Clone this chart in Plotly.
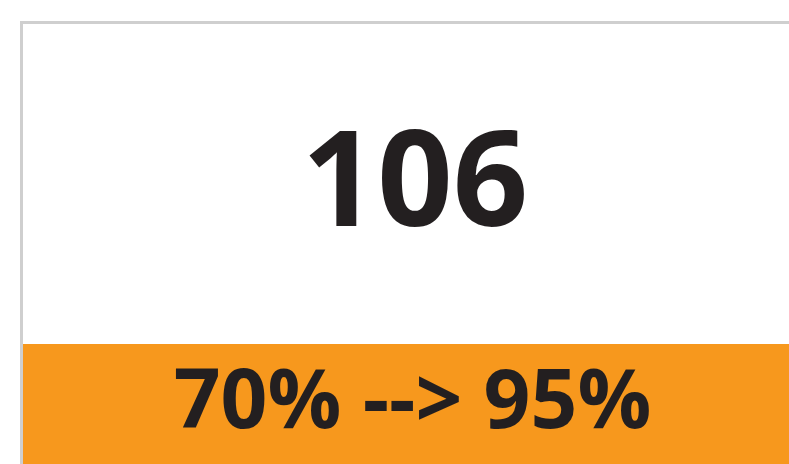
import plotly.graph_objects as go

# KPI data
kpi_value = [106]
pct_from = [70]
pct_to = [95]

W, H = 789, 464
DARK = "#231F20"
ORANGE = "#F7981D"
FONT = "Open Sans"

fig = go.Figure()
fig.add_trace(go.Scatter(
    x=[415], y=[193],
    mode="text",
    text=[str(kpi_value[0])],
    textfont=dict(family=FONT, size=132, color=DARK, weight="bold"),
    textposition="middle center",
    hoverinfo="skip", showlegend=False,
))
fig.add_trace(go.Scatter(
    x=[412.5], y=[407],
    mode="text",
    text=[f"{pct_from[0]}% --> {pct_to[0]}%"],
    textfont=dict(family=FONT, size=82, color=DARK, weight="bold"),
    textposition="middle center",
    hoverinfo="skip", showlegend=False,
))

shapes = [
    dict(type="rect", xref="x", yref="y", x0=21.5, y0=22.5, x1=W + 10, y1=H + 10,
         line=dict(color="#CFCFCF", width=3), fillcolor="white", layer="below"),
    dict(type="rect", xref="x", yref="y", x0=23, y0=344, x1=W + 10, y1=H + 10,
         line=dict(width=0), fillcolor=ORANGE, layer="below"),
]

fig.update_layout(
    width=W, height=H,
    margin=dict(l=0, r=0, t=0, b=0),
    paper_bgcolor="white", plot_bgcolor="white",
    xaxis=dict(range=[0, W], visible=False, fixedrange=True),
    yaxis=dict(range=[H, 0], visible=False, fixedrange=True),
    shapes=shapes,
)

fig.write_html("out.html", config={"displayModeBar": False},
               post_script="document.body.style.margin='0px';document.body.style.overflow='hidden';")
